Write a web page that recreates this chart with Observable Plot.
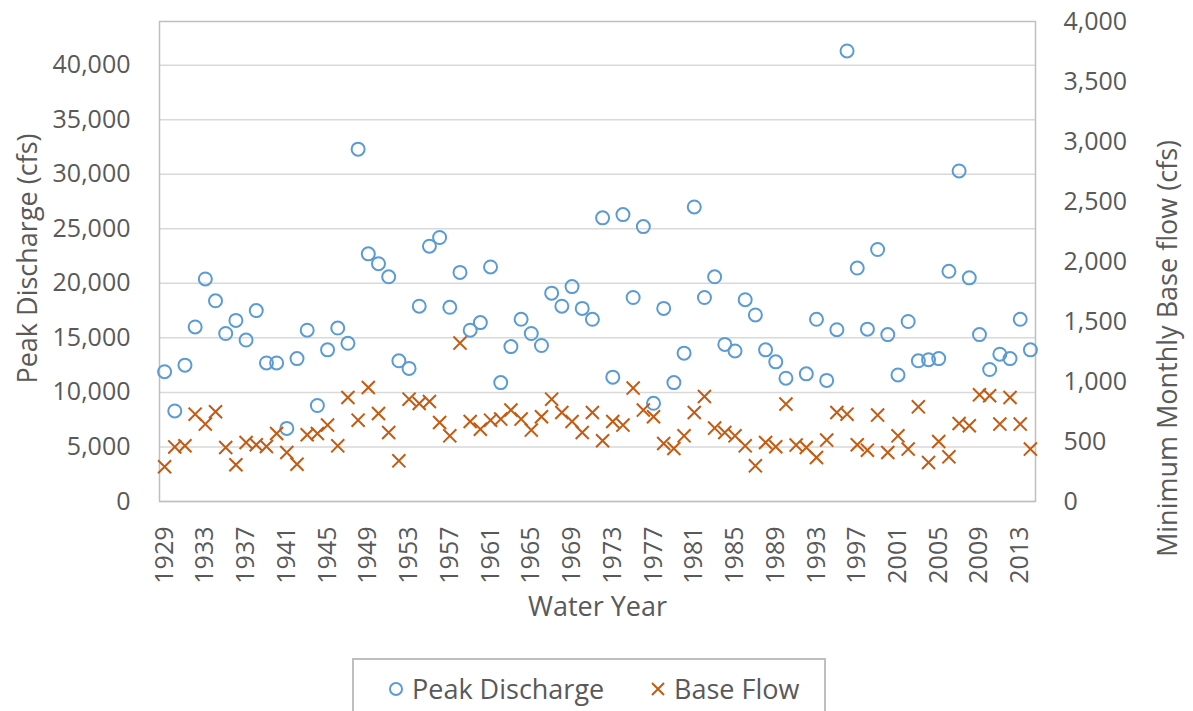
<!DOCTYPE html>
<html>
<head>
<meta charset="utf-8">
<script src="https://cdn.jsdelivr.net/npm/d3@7"></script>
<script src="https://cdn.jsdelivr.net/npm/@observablehq/plot@0.6"></script>
<style>
  html, body { margin: 0; padding: 0; background: #fff; }
  #wrap { position: relative; width: 1193px; height: 711px; overflow: hidden; font-family: "Open Sans", sans-serif; color: #595959; }
  #legend { position: absolute; left: 352px; top: 658px; width: 474px; height: 70px; border: 2px solid #bfbfbf; box-sizing: border-box; background: #fff; }
  .li { position: absolute; top: 10px; font-size: 27px; line-height: 38px; display: flex; align-items: center; }
  .li svg { margin-right: 8px; }
</style>
</head>
<body>
<div id="wrap">
  <div id="chart"></div>
  <div id="legend">
    <div class="li" style="left:34px"><svg width="16" height="16"><circle cx="8" cy="8" r="6" fill="none" stroke="#5B9BD5" stroke-width="2"/></svg>Peak Discharge</div>
    <div class="li" style="left:296px"><svg width="16" height="16"><path d="M2,2L14,14M14,2L2,14" stroke="#C55A11" stroke-width="2"/></svg>Base Flow</div>
  </div>
</div>
<script>
const years = [
  1929,1930,1931,1932,1933,1934,1935,1936,1937,1938,
  1939,1940,1941,1942,1943,1944,1945,1946,1947,1948,
  1949,1950,1951,1952,1953,1954,1955,1956,1957,1958,
  1959,1960,1961,1962,1963,1964,1965,1966,1967,1968,
  1969,1970,1971,1972,1973,1974,1975,1976,1977,1978,
  1979,1980,1981,1982,1983,1984,1985,1986,1987,1988,
  1989,1990,1991,1992,1993,1994,1995,1996,1997,1998,
  1999,2000,2001,2002,2003,2004,2005,2006,2007,2008,
  2009,2010,2011,2012,2013,2014
];
const peakDischarge = [
  11900,8300,12500,16000,20400,18400,15400,16600,14800,17500,
  12700,12700,6700,13100,15700,8800,13900,15900,14500,32300,
  22700,21800,20600,12900,12200,17900,23400,24200,17800,21000,
  15700,16400,21500,10900,14200,16700,15400,14300,19100,17900,
  19700,17700,16700,26000,11400,26300,18700,25200,9000,17700,
  10900,13600,27000,18700,20600,14400,13800,18500,17100,13900,
  12800,11300,null,11700,16700,11100,15750,41300,21400,15800,
  23100,15300,11600,16500,12900,13000,13100,21100,30300,20500,
  15300,12100,13500,13100,16700,13900
];
const baseFlow = [
  290,455,465,728,645,748,450,306,492,473,
  458,567,408,310,556,567,637,464,867,678,
  950,733,575,339,853,817,833,658,547,1320,
  667,603,678,687,762,687,595,706,853,742,
  667,575,742,506,667,637,945,762,706,483,
  442,547,742,875,612,575,547,464,297,492,
  456,812,470,450,367,512,742,728,473,428,
  720,408,547,437,789,325,500,372,650,631,
  889,881,645,867,645,437
];
const xTickYears = [1929,1933,1937,1941,1945,1949,1953,1957,1961,1965,1969,1973,1977,1981,1985,1989,1993,1997,2001,2005,2009,2013];
const leftTicks = [0,5000,10000,15000,20000,25000,30000,35000,40000];
const rightTicks = [0,500,1000,1500,2000,2500,3000,3500,4000];
const leftMax = 44000, rightMax = 4000;
const xTitle = "Water Year";
const leftTitle = "Peak Discharge (cfs)";
const rightTitle = "Minimum Monthly Base flow (cfs)";

const ratio = leftMax / rightMax;
const fmt = d3.format(",");
const rows = years.map((y, i) => ({year: y, peak: peakDischarge[i], base: baseFlow[i]}));
const blue = "#5B9BD5", orange = "#C55A11";

const chart = Plot.plot({
  width: 1193,
  height: 650,
  marginLeft: 159,
  marginRight: 158,
  marginTop: 21,
  marginBottom: 149,
  style: {fontFamily: "Open Sans, sans-serif", fontSize: "25px", color: "#595959", background: "#fff", overflow: "visible"},
  x: {type: "band", domain: years, padding: 0, round: false},
  y: {domain: [0, leftMax]},
  marks: [
    Plot.gridY(leftTicks, {stroke: "#d9d9d9", strokeOpacity: 1, strokeWidth: 1.5}),
    Plot.frame({stroke: "#bfbfbf", strokeWidth: 1.5}),
    Plot.axisY(leftTicks, {anchor: "left", tickSize: 0, tickPadding: 29, tickFormat: fmt, label: null, fontSize: 25}),
    Plot.axisY(rightTicks.map(v => v * ratio), {anchor: "right", tickSize: 0, tickPadding: 28, tickFormat: v => fmt(Math.round(v / ratio)), label: null, fontSize: 25}),
    Plot.axisX(xTickYears, {anchor: "bottom", tickSize: 0, tickPadding: 25, tickRotate: -90, tickFormat: d => `${d}`, label: null, fontSize: 25}),
    Plot.dot(rows, {x: "year", y: "peak", r: 6.5, stroke: blue, strokeWidth: 2, fill: "none"}),
    Plot.dot(rows, {x: "year", y: d => d.base * ratio, symbol: "times", r: 6, stroke: orange, strokeWidth: 2}),
    Plot.text([xTitle], {frameAnchor: "bottom", dy: 106, fontSize: 27, fill: "#595959", textAnchor: "middle", lineAnchor: "middle"}),
    Plot.text([leftTitle], {frameAnchor: "left", dx: -131, dy: -3, rotate: -90, fontSize: 27, fill: "#595959", textAnchor: "middle", lineAnchor: "middle"}),
    Plot.text([rightTitle], {frameAnchor: "right", dx: 133, dy: 87, rotate: -90, fontSize: 27, fill: "#595959", textAnchor: "middle", lineAnchor: "middle"})
  ]
});
document.getElementById("chart").appendChild(chart);
</script>
</body>
</html>
